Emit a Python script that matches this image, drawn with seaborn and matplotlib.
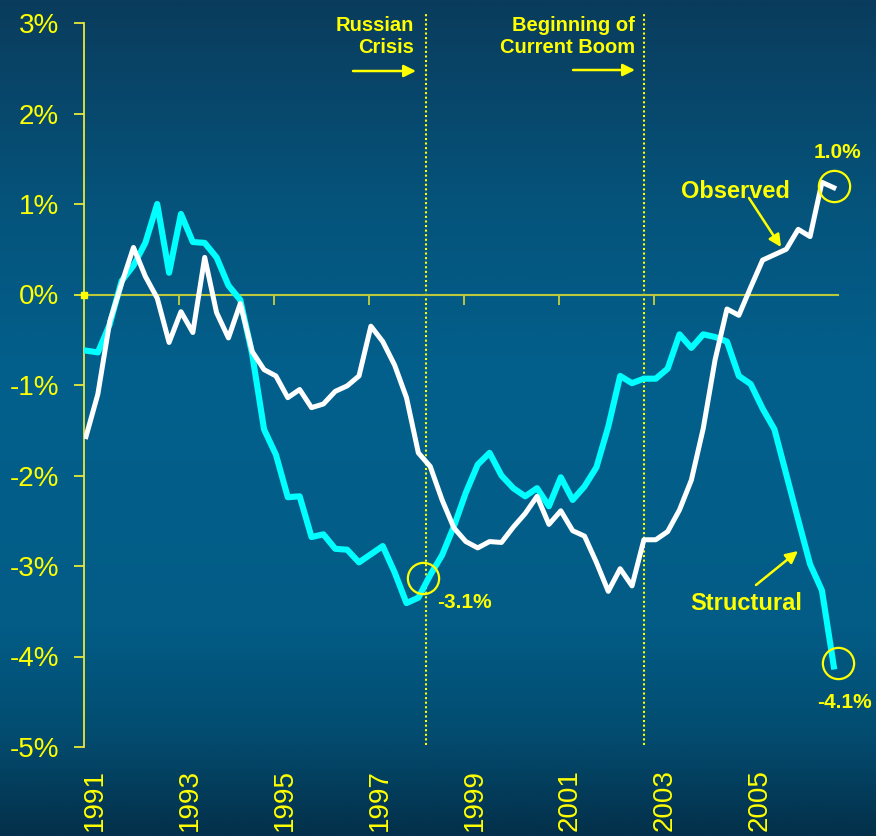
import numpy as np
import pandas as pd
import matplotlib
matplotlib.use("Agg")
import matplotlib.pyplot as plt
import seaborn as sns
from matplotlib.colors import LinearSegmentedColormap
from matplotlib.transforms import blended_transform_factory

# ---------------- data ----------------
quarters = [str(p) for p in pd.period_range("1991Q1", "2006Q4", freq="Q")]

observed = [-1.57, -1.10, -0.30, 0.12, 0.52, 0.20, -0.04, -0.53, -0.19, -0.42,
            0.41, -0.20, -0.48, -0.10, -0.63, -0.83, -0.90, -1.14, -1.05, -1.25,
            -1.21, -1.07, -1.01, -0.90, -0.35, -0.52, -0.78, -1.14, -1.75, -1.90,
            -2.27, -2.58, -2.73, -2.80, -2.73, -2.74, -2.57, -2.42, -2.23, -2.54,
            -2.39, -2.61, -2.67, -2.96, -3.28, -3.03, -3.22, -2.71, -2.71, -2.62,
            -2.38, -2.05, -1.48, -0.72, -0.16, -0.23, 0.08, 0.38, 0.44, 0.50,
            0.72, 0.64, 1.24, 1.18]

structural = [-0.62, -0.64, -0.33, 0.15, 0.32, 0.57, 1.00, 0.24, 0.89, 0.58,
              0.57, 0.41, 0.10, -0.06, -0.66, -1.49, -1.77, -2.24, -2.23, -2.68,
              -2.65, -2.81, -2.82, -2.96, -2.87, -2.78, -3.07, -3.41, -3.35, -3.10,
              -2.88, -2.56, -2.19, -1.88, -1.75, -2.00, -2.14, -2.23, -2.14, -2.34,
              -2.02, -2.27, -2.12, -1.91, -1.46, -0.90, -0.98, -0.93, -0.93, -0.82,
              -0.44, -0.59, -0.44, -0.47, -0.52, -0.90, -0.99, -1.26, -1.49, -1.99,
              -2.49, -2.98, -3.27, -4.11]

year_labels = ["1991", "1993", "1995", "1997", "1999", "2001", "2003", "2005"]
y_ticks = [3, 2, 1, 0, -1, -2, -3, -4, -5]
y_tick_labels = ["3%", "2%", "1%", "0%", "-1%", "-2%", "-3%", "-4%", "-5%"]

events = ["Russian\nCrisis", "Beginning of\nCurrent Boom"]
callouts = ["-3.1%", "1.0%", "-4.1%"]

# ---------------- figure ----------------
W, H = 876, 836
YEL = "#FFFF00"
FONT = "Liberation Sans"
plt.rcParams["font.family"] = [FONT, "DejaVu Sans"]

fig = plt.figure(figsize=(W / 100, H / 100), dpi=100)

# background gradient
bg = fig.add_axes([0, 0, 1, 1], zorder=-10)
stops = [(0.0, (10, 60, 92)), (0.25, (5, 84, 124)), (0.45, (2, 96, 140)),
         (0.75, (2, 92, 134)), (0.88, (3, 76, 112)), (1.0, (3, 48, 74))]
cmap = LinearSegmentedColormap.from_list(
    "bg", [(p, tuple(c / 255 for c in rgb)) for p, rgb in stops])
grad = np.linspace(0, 1, 512).reshape(-1, 1)
bg.imshow(grad, aspect="auto", cmap=cmap, extent=[0, 1, 0, 1], origin="upper")
bg.set_axis_off()

def fx(p):
    return p / W

def fy(p):
    return 1 - p / H

ax = fig.add_axes([fx(84), fy(747), (838 - 84) / W, (747 - 23) / H])
ax.patch.set_alpha(0)

df = pd.DataFrame({
    "idx": np.arange(len(quarters)),
    "quarter": quarters,
    "Observed": observed,
    "Structural": structural,
})

sns.lineplot(data=df, x="idx", y="Structural", ax=ax, color="#00FFFF",
             linewidth=4.4, legend=False, zorder=3)
sns.lineplot(data=df, x="idx", y="Observed", ax=ax, color="#FFFFFF",
             linewidth=3.6, legend=False, zorder=4)

step = 11.87
def px2i(p):
    return (p - 86) / step

ax.set_xlim(px2i(84), px2i(838))
ax.set_ylim(-5, 3)
ax.set_xlabel("")
ax.set_ylabel("")

for s in ["top", "right"]:
    ax.spines[s].set_visible(False)
ax.spines["bottom"].set_position(("data", 0))
ax.spines["bottom"].set_color("#BCC83C")
ax.spines["bottom"].set_linewidth(1.5)
ax.spines["left"].set_color("#E8E83A")
ax.spines["left"].set_linewidth(1.3)

ax.set_xticks([8 * k + px2i(84) for k in range(1, 7)])
ax.tick_params(axis="x", direction="out", length=7, width=1.4,
               color="#BCC83C", labelbottom=False)
ax.set_yticks(y_ticks)
ax.set_yticklabels(y_tick_labels)
ax.tick_params(axis="y", direction="out", length=7, width=1.3,
               color="#E8E83A", labelcolor=YEL, labelsize=20, pad=11)

# origin marker
ax.plot([px2i(84)], [0], marker="s", ms=4.5, color=YEL, clip_on=False, zorder=5)

# year labels
tr = blended_transform_factory(ax.transData, ax.transAxes)
for k, lab in enumerate(year_labels):
    ax.text(8 * k + 0.75, -0.031, lab, transform=tr, rotation=90,
            ha="center", va="top", fontsize=20, color=YEL)

# event lines
for xp in (426, 644):
    ax.plot([px2i(xp), px2i(xp)], [(295 - 745) / 90.5, (295 - 13) / 90.5],
            color=YEL, lw=1.5, ls=(0, (1, 1.2)), clip_on=False, zorder=2)

# event texts
fig.text(fx(414), fy(16), events[0], ha="right", va="top", fontsize=14.5,
         fontweight="bold", color=YEL, linespacing=1.2)
fig.text(fx(635), fy(16), events[1], ha="right", va="top", fontsize=14.5,
         fontweight="bold", color=YEL, linespacing=1.2)

arrow_kw = dict(arrowstyle="-|>", color=YEL, lw=1.8, mutation_scale=18,
                shrinkA=0, shrinkB=0)
ax.annotate("", xy=(fx(416), fy(71)), xytext=(fx(353), fy(71)),
            xycoords="figure fraction", textcoords="figure fraction",
            arrowprops=arrow_kw)
ax.annotate("", xy=(fx(635), fy(70)), xytext=(fx(573), fy(70)),
            xycoords="figure fraction", textcoords="figure fraction",
            arrowprops=arrow_kw)

# callout circles
for (cx, cy) in [(423, 578), (834, 186), (838, 663)]:
    ax.plot([px2i(cx)], [(295 - cy) / 90.5], marker="o", ms=22.5,
            mfc="none", mec=YEL, mew=1.6, clip_on=False, zorder=6)

fig.text(fx(464), fy(603), callouts[0], ha="center", va="center",
         fontsize=15, fontweight="bold", color=YEL)
fig.text(fx(837), fy(152), callouts[1], ha="center", va="center",
         fontsize=15, fontweight="bold", color=YEL)
fig.text(fx(844), fy(703), callouts[2], ha="center", va="center",
         fontsize=15, fontweight="bold", color=YEL)

# series labels
fig.text(fx(735), fy(191), "Observed", ha="center", va="center",
         fontsize=17, fontweight="bold", color=YEL)
fig.text(fx(746), fy(603), "Structural", ha="center", va="center",
         fontsize=17, fontweight="bold", color=YEL)
ax.annotate("", xy=(fx(781), fy(247)), xytext=(fx(749), fy(198)),
            xycoords="figure fraction", textcoords="figure fraction",
            arrowprops=arrow_kw)
ax.annotate("", xy=(fx(798), fy(551)), xytext=(fx(756), fy(585)),
            xycoords="figure fraction", textcoords="figure fraction",
            arrowprops=arrow_kw)

fig.savefig("out.png", dpi=100)
